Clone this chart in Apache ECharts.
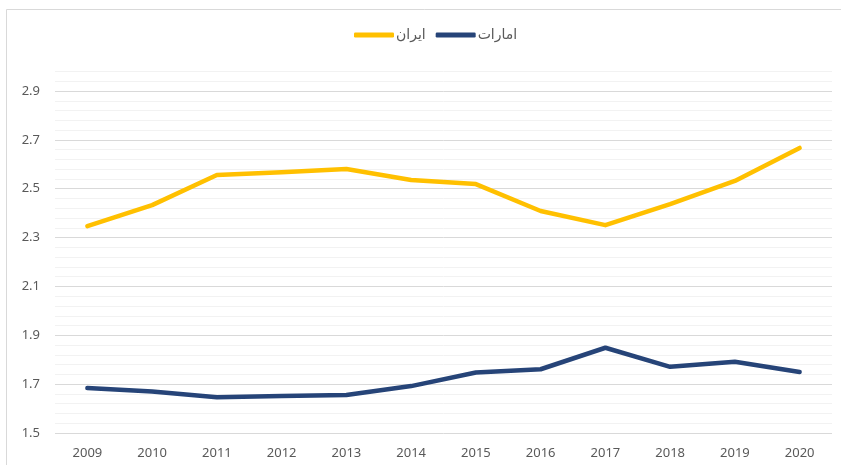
<!DOCTYPE html>
<html>
<head>
<meta charset="utf-8">
<script src="https://cdn.jsdelivr.net/npm/echarts@6/dist/echarts.min.js"></script>
<style>
  html, body { margin: 0; padding: 0; background: #fff; }
  #main { width: 841px; height: 465px; }
</style>
</head>
<body>
<div id="main"></div>
<script>
// سال‌ها
var years = ['2009', '2010', '2011', '2012', '2013', '2014', '2015', '2016', '2017', '2018', '2019', '2020'];
var iran = [2.347, 2.433, 2.556, 2.568, 2.581, 2.536, 2.519, 2.409, 2.351, 2.437, 2.532, 2.667];
var uae = [1.684, 1.670, 1.646, 1.651, 1.656, 1.692, 1.748, 1.761, 1.849, 1.771, 1.792, 1.750];
var yLabels = ['1.5', '1.7', '1.9', '2.1', '2.3', '2.5', '2.7', '2.9'];

var myChart = echarts.init(document.getElementById('main'));
var textColor = '#595959';
var font = '"Noto Sans", "DejaVu Sans", sans-serif';

myChart.setOption({
    animation: false,
    backgroundColor: '#fff',
    textStyle: { fontFamily: font },
    graphic: [{
        type: 'rect',
        shape: { x: 6.5, y: 9.5, width: 900, height: 500 },
        style: { fill: 'none', stroke: '#d9d9d9', lineWidth: 1 },
        silent: true
    }],
    legend: {
        top: 23,
        left: 349,
        icon: 'roundRect',
        itemWidth: 40,
        itemHeight: 5,
        itemGap: 10,
        textStyle: { color: textColor, fontSize: 14, fontFamily: font, padding: [0, 0, 0, -3] },
        data: ['ایران', 'امارات']
    },
    grid: { left: 55, right: 9, top: 71.5, bottom: 32, containLabel: false },
    xAxis: {
        type: 'category',
        data: years,
        boundaryGap: true,
        axisLine: { show: false },
        axisTick: { show: false },
        axisLabel: { color: textColor, fontSize: 13, margin: 14 }
    },
    yAxis: {
        type: 'value',
        min: 1.5,
        max: 2.98,
        interval: 0.04,
        axisLine: { show: false },
        axisTick: { show: false },
        axisLabel: {
            color: textColor,
            fontSize: 13,
            margin: 15,
            showMaxLabel: false,
            formatter: function (v) {
                var s = v.toFixed(1);
                return (Math.abs(v - parseFloat(s)) < 1e-6 && yLabels.indexOf(s) >= 0) ? s : '';
            }
        },
        splitLine: {
            lineStyle: { color: ['#d9d9d9', '#f2f2f2', '#f2f2f2', '#f2f2f2', '#f2f2f2'], width: 1 }
        }
    },
    series: [{
        name: 'ایران',
        type: 'line',
        data: iran,
        symbol: 'none',
        color: '#FFC000',
        lineStyle: { width: 4.5, cap: 'round', join: 'round' }
    }, {
        name: 'امارات',
        type: 'line',
        data: uae,
        symbol: 'none',
        color: '#264478',
        lineStyle: { width: 4.5, cap: 'round', join: 'round' }
    }]
});
</script>
</body>
</html>
